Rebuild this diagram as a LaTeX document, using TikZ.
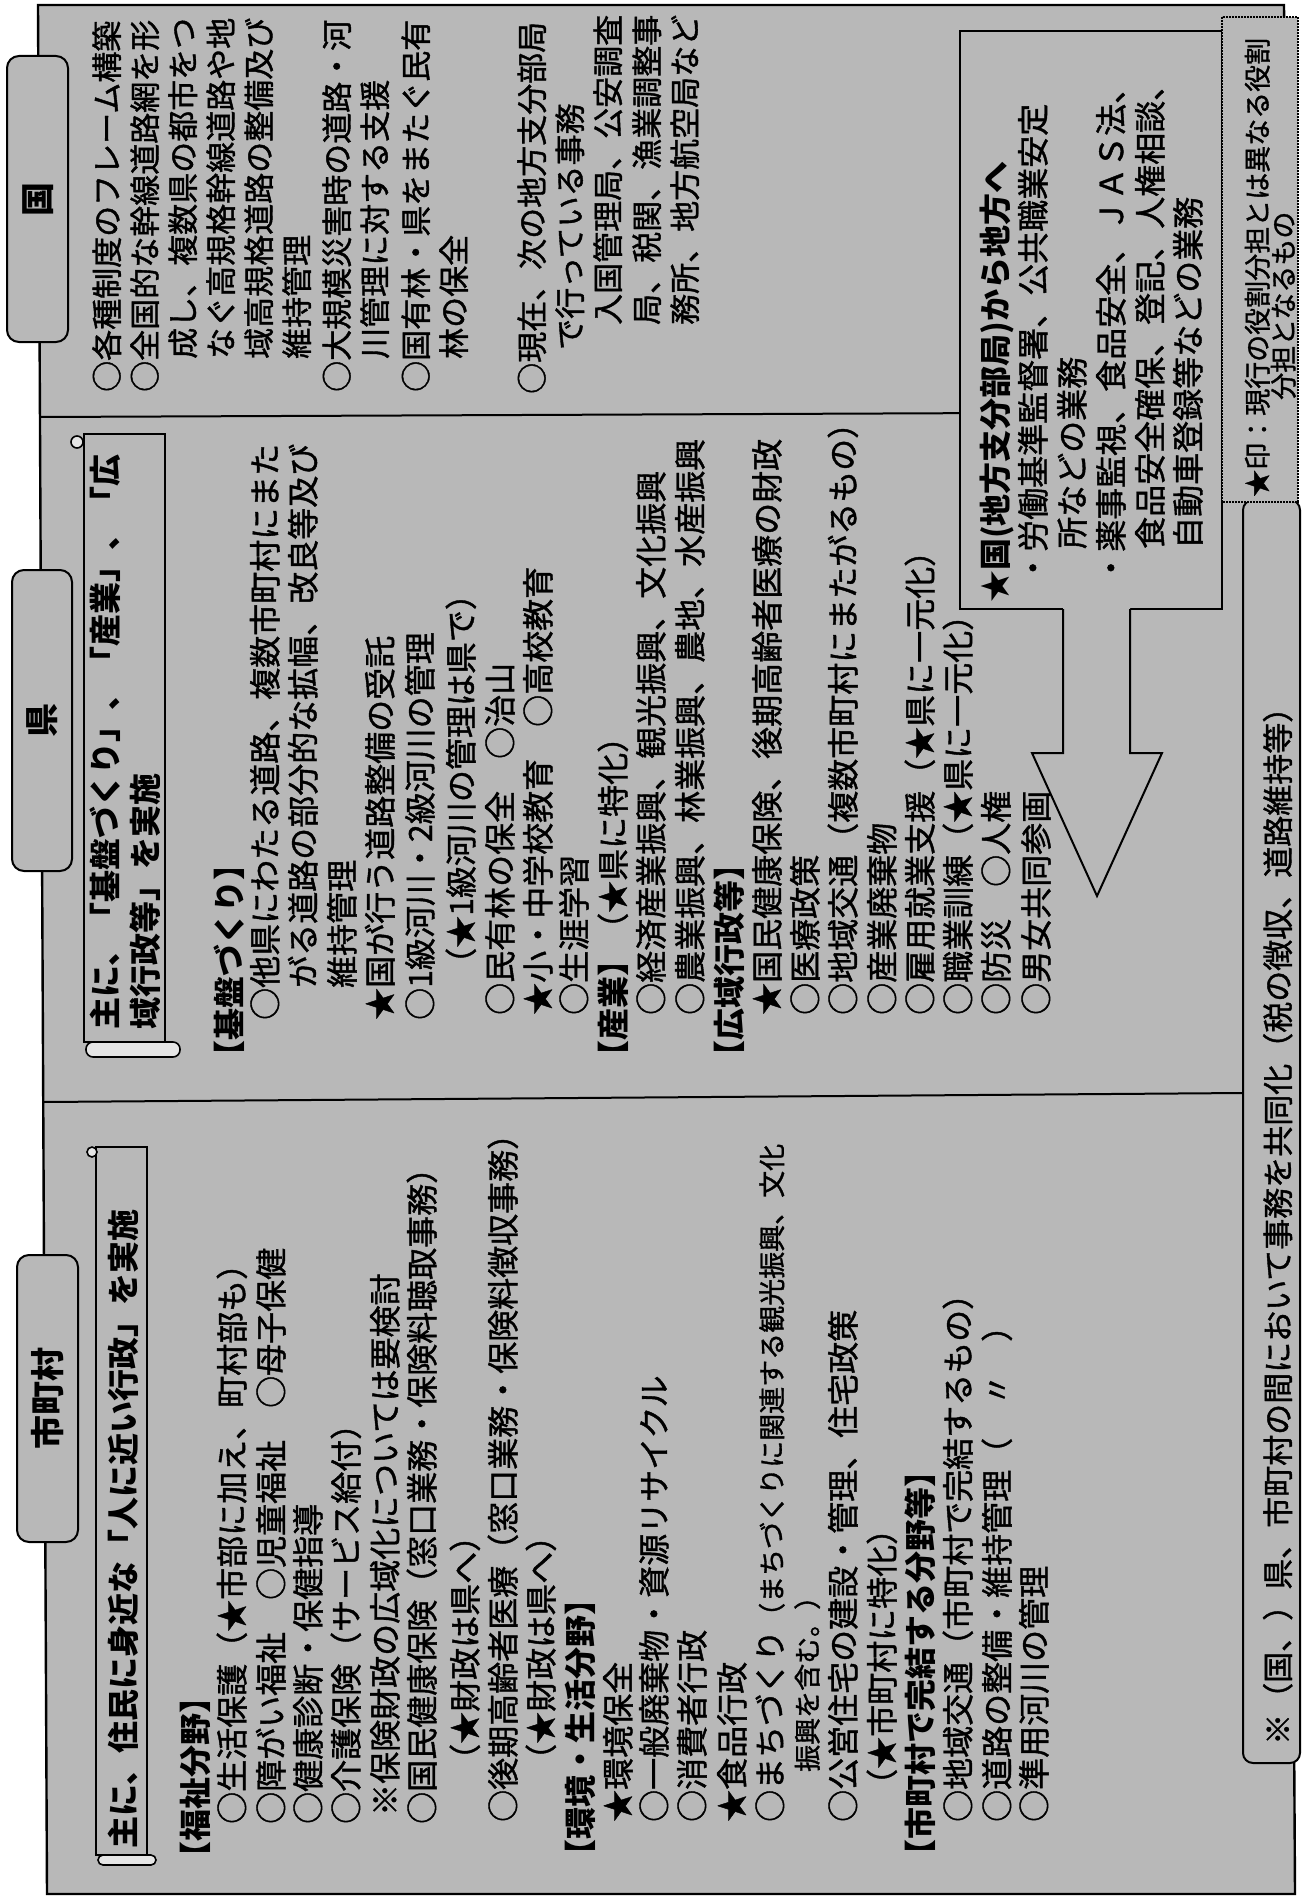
\documentclass[tikz,border=0pt]{standalone}
\usepackage{fontspec}
\setmainfont{Noto Sans CJK JP}[UprightFeatures={FakeBold=1.3}]
\begin{document}
\begin{tikzpicture}[x=1pt,y=-1pt,
  halftone/.style={fill=black!28},
  ln/.style={rotate=90,anchor=west,inner sep=0pt,text height=28pt,text depth=4pt,font=\fontsize{32}{32}\selectfont},
  lnb/.style={ln,font=\fontsize{32}{32}\selectfont\bfseries},
  lnk/.style={rotate=90,anchor=west,inner sep=0pt,text height=27pt,text depth=4pt,font=\fontsize{31}{31}\selectfont},
  lns/.style={rotate=90,anchor=west,inner sep=0pt,text height=24pt,text depth=3pt,font=\fontsize{27}{27}\selectfont},
  hdbox/.style={draw=black,line width=2pt,rounded corners=12pt,halftone},
  hdtext/.style={rotate=90,inner sep=0pt,font=\fontsize{34}{34}\selectfont\bfseries},
  frameline/.style={line width=2.4pt},
  divider/.style={line width=2pt},
  boxline/.style={line width=2pt},
  rollbar/.style={line width=1.6pt,fill=black!10},
]
\useasboundingbox (0,0) rectangle (1303,1897);
\fill[white] (0,0) rectangle (1303,1897);

% main frame and dividers
\draw[frameline,halftone] (38,5) -- (1284,5) -- (1295,1894) -- (47,1894) -- cycle;
\draw[divider] (40,417) -- (1243,412);
\draw[divider] (43,1102) -- (1243,1093);

% column headers
\draw[hdbox] (7,56) rectangle (68,342);
\node[hdtext] (hK) at (38,199) {国};
\draw[hdbox] (12,570) rectangle (72,871);
\node[hdtext] (hP) at (42,720) {県};
\draw[hdbox] (17,1255) rectangle (78,1542);
\node[hdtext] (hM) at (48,1398) {市町村};

% scroll boxes
\draw[boxline,halftone] (84,434) rectangle (165,1042);
\draw[rollbar,rounded corners=7pt] (86,1042) rectangle (180,1057);
\draw[rollbar] (77,442) circle (6);
\draw[boxline,halftone] (96,1147) rectangle (147,1855);
\draw[rollbar,rounded corners=5pt] (98,1855) rectangle (156,1865);
\draw[rollbar] (92,1152) circle (5);

% box of the national branch offices and arrow
\draw[boxline,halftone] (960,31) rectangle (1222,609);
\fill[halftone] (1063,607) -- (1063,753) -- (1032,753) -- (1097,896) -- (1162,753) -- (1130,753) -- (1130,607) -- cycle;
\draw[boxline,line join=miter] (1063,609) -- (1063,753) -- (1032,753) -- (1097,896) -- (1162,753) -- (1130,753) -- (1130,609);

% notes at the right edge
\draw[boxline,halftone,rounded corners=10pt] (1243,500) rectangle (1300,1763);
\draw[boxline,densely dotted,halftone] (1222,17) rectangle (1298,502);

% ---- 国 ----
\node[lnk] (k1) at (107,392) {○各種制度のフレーム構築};
\node[lnk] (k2) at (145,392) {○全国的な幹線道路網を形};
\node[lnk] (k3) at (183,359) {成し、複数県の都市をつ};
\node[lnk] (k4) at (221,359) {なぐ高規格幹線道路や地};
\node[lnk] (k5) at (259,359) {域高規格道路の整備及び};
\node[lnk] (k6) at (297,359) {維持管理};
\node[lnk] (k7) at (337,392) {○大規模災害時の道路・河};
\node[lnk] (k8) at (375,359) {川管理に対する支援};
\node[lnk] (k9) at (416,392) {○国有林・県をまたぐ民有};
\node[lnk] (k10) at (454,359) {林の保全};
\node[lnk] (k11) at (532,394) {○現在、次の地方支分部局};
\node[lnk] (k12) at (570,350) {で行っている事務};
\node[lnk] (k13) at (608,325) {入国管理局、公安調査};
\node[lnk] (k14) at (647,325) {局、税関、漁業調整事};
\node[lnk] (k15) at (685,325) {務所、地方航空局など};

% ---- 県 ----
\node[lnb] (p0a) at (105,1030) {主に、「基盤づくり」、「産業」、「広};
\node[lnb] (p0b) at (145,1030) {域行政等」を実施};
\node[lnb] (p1) at (229,1073) {【基盤づくり】};
\node[ln] (p2) at (265,1020) {○他県にわたる道路、複数市町村にまた};
\node[ln] (p3) at (303,988) {がる道路の部分的な拡幅、改良等及び};
\node[ln] (p4) at (342,988) {維持管理};
\node[ln] (p5) at (380,1020) {★国が行う道路整備の受託};
\node[ln] (p6) at (420,1020) {○1級河川・2級河川の管理};
\node[ln] (p7) at (461,980) {（★1級河川の管理は県で）};
\node[ln] (p8) at (500,1015) {○民有林の保全　○治山};
\node[ln] (p9) at (538,1015) {★小・中学校教育　○高校教育};
\node[ln] (p10) at (574,1015) {○生涯学習};
\node[ln] (p11) at (613,1073) {{\bfseries 【産業】}（★県に特化）};
\node[ln] (p12) at (651,1015) {○経済産業振興、観光振興、文化振興};
\node[ln] (p13) at (690,1015) {○農業振興、林業振興、農地、水産振興};
\node[lnb] (p14) at (729,1073) {【広域行政等】};
\node[ln] (p15) at (767,1015) {★国民健康保険、後期高齢者医療の財政};
\node[ln] (p16) at (805,1015) {○医療政策};
\node[ln] (p17) at (843,1015) {○地域交通（複数市町村にまたがるもの）};
\node[ln] (p18) at (882,1015) {○産業廃棄物};
\node[ln] (p19) at (920,1015) {○雇用就業支援（★県に一元化）};
\node[ln] (p20) at (958,1015) {○職業訓練（★県に一元化）};
\node[ln] (p21) at (996,1015) {○防災　○人権};
\node[ln] (p22) at (1036,1015) {○男女共同参画};

% ---- 市町村 ----
\node[lnb] (m0) at (123,1849) {主に、住民に身近な「人に近い行政」を実施};
\node[lnb] (m1) at (195,1874) {【福祉分野】};
\node[ln] (m2) at (232,1824) {○生活保護（★市部に加え、町村部も）};
\node[ln] (m3) at (271,1824) {○障がい福祉　○児童福祉　○母子保健};
\node[ln] (m4) at (308,1824) {○健康診断・保健指導};
\node[ln] (m5) at (346,1824) {○介護保険（サービス給付）};
\node[ln] (m6) at (385,1816) {※保険財政の広域化については要検討};
\node[ln] (m7) at (422,1824) {○国民健康保険（窓口業務・保険料聴取事務）};
\node[ln] (m8) at (465,1776) {（★財政は県へ）};
\node[ln] (m9) at (503,1822) {○後期高齢者医療（窓口業務・保険料徴収事務）};
\node[ln] (m10) at (541,1776) {（★財政は県へ）};
\node[lnb] (m11) at (580,1872) {【環境・生活分野】};
\node[ln] (m12) at (618,1822) {★環境保全};
\node[ln] (m13) at (654,1822) {○一般廃棄物・資源リサイクル};
\node[ln] (m14) at (692,1822) {○消費者行政};
\node[ln] (m15) at (732,1822) {★食品行政};
\node[ln] (m16) at (770,1822) {○まちづくり{\fontsize{27}{27}\selectfont （まちづくりに関連する観光振興、文化}};
\node[lns] (m17) at (807,1772) {振興を含む。）};
\node[ln] (m18) at (843,1822) {○公営住宅の建設・管理、住宅政策};
\node[ln] (m19) at (882,1801) {（★市町村に特化）};
\node[lnb] (m20) at (920,1872) {【市町村で完結する分野等】};
\node[ln] (m21) at (958,1822) {○地域交通（市町村で完結するもの）};
\node[ln] (m22) at (997,1822) {○道路の整備・維持管理（　〃　）};
\node[ln] (m23) at (1034,1822) {○準用河川の管理};

% ---- 国 → 地方 box ----
\node[lnb] (g0) at (995,603) {★国(地方支分部局)から地方へ};
\node[ln] (g1) at (1033,584) {・労働基準監督署、公共職業安定};
\node[ln] (g2) at (1072,549) {所などの業務};
\node[ln] (g3) at (1111,584) {・薬事監視、食品安全、ＪＡＳ法、};
\node[ln] (g4) at (1150,549) {食品安全確保、登記、人権相談、};
\node[ln] (g5) at (1188,549) {自動車登録等などの業務};

% ---- notes ----
\node[lns] (s1) at (1257,497) {★印：現行の役割分担とは異なる役割};
\node[lns] (s2) at (1283,400) {分担となるもの};
\node[lnk] (note) at (1278,1745) {※（国、）県、市町村の間において事務を共同化（税の徴収、道路維持等）};
\end{tikzpicture}
\end{document}
